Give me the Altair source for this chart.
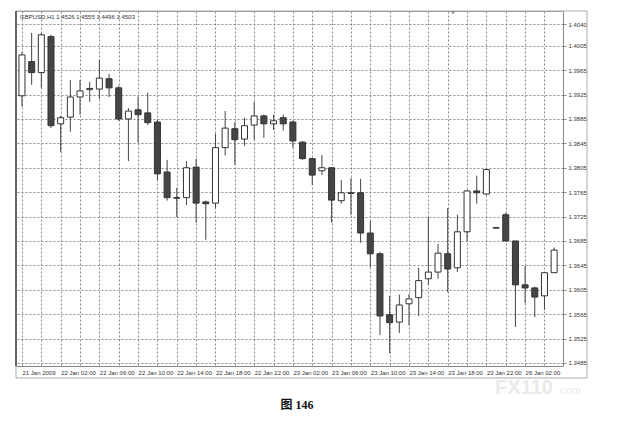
import altair as alt
import pandas as pd

# ---- data (GBPUSD H1 candles) ----
bar_idx = list(range(56))
open_ = [1.3923, 1.3979, 1.3961, 1.4020, 1.3877, 1.3888, 1.3921, 1.3933, 1.3934, 1.3951,
         1.3936, 1.3885, 1.3900, 1.3895, 1.3880, 1.3798, 1.3756, 1.3756, 1.3806, 1.3749,
         1.3747, 1.3838, 1.3869, 1.3852, 1.3875, 1.3890, 1.3877, 1.3887, 1.3880, 1.3847,
         1.3820, 1.3800, 1.3805, 1.3751, 1.3764, 1.3764, 1.3698, 1.3664, 1.3564, 1.3552,
         1.3582, 1.3592, 1.3623, 1.3634, 1.3664, 1.3641, 1.3700, 1.3767, 1.3762, 1.3707,
         1.3728, 1.3685, 1.3613, 1.3608, 1.3595, 1.3633]
high = [1.3995, 1.4026, 1.4026, 1.4023, 1.3890, 1.3949, 1.3949, 1.3946, 1.3982, 1.3959,
        1.3939, 1.3903, 1.3921, 1.3928, 1.3884, 1.3818, 1.3772, 1.3816, 1.3820, 1.3751,
        1.3861, 1.3898, 1.3880, 1.3887, 1.3913, 1.3892, 1.3892, 1.3892, 1.3882, 1.3849,
        1.3821, 1.3826, 1.3806, 1.3785, 1.3788, 1.3787, 1.3718, 1.3667, 1.3595, 1.3597,
        1.3598, 1.3641, 1.3724, 1.3680, 1.3739, 1.3728, 1.3769, 1.3792, 1.3803, 1.3707,
        1.3731, 1.3685, 1.3644, 1.3610, 1.3633, 1.3674]
low = [1.3905, 1.3941, 1.3936, 1.3870, 1.3831, 1.3864, 1.3892, 1.3913, 1.3918, 1.3921,
       1.3882, 1.3816, 1.3846, 1.3875, 1.3785, 1.3751, 1.3724, 1.3744, 1.3715, 1.3687,
       1.3739, 1.3825, 1.3810, 1.3841, 1.3851, 1.3854, 1.3867, 1.3866, 1.3838, 1.3818,
       1.3777, 1.3793, 1.3715, 1.3746, 1.3728, 1.3682, 1.3642, 1.3531, 1.3501, 1.3534,
       1.3547, 1.3562, 1.3613, 1.3623, 1.3601, 1.3634, 1.3685, 1.3746, 1.3760, 1.3706,
       1.3685, 1.3544, 1.3583, 1.3560, 1.3572, 1.3633]
close = [1.3990, 1.3961, 1.4023, 1.3874, 1.3887, 1.3921, 1.3931, 1.3935, 1.3952, 1.3936,
         1.3885, 1.3898, 1.3892, 1.3879, 1.3795, 1.3756, 1.3755, 1.3805, 1.3747, 1.3746,
         1.3838, 1.3870, 1.3851, 1.3874, 1.3890, 1.3877, 1.3882, 1.3877, 1.3849, 1.3820,
         1.3793, 1.3805, 1.3752, 1.3764, 1.3763, 1.3698, 1.3664, 1.3562, 1.3551, 1.3580,
         1.3590, 1.3620, 1.3634, 1.3665, 1.3639, 1.3700, 1.3767, 1.3764, 1.3802, 1.3706,
         1.3685, 1.3613, 1.3608, 1.3593, 1.3633, 1.3670]

x_tick_idx = [0, 4, 8, 12, 16, 20, 24, 28, 32, 36, 40, 44, 48, 52]
x_tick_labels = ["21 Jan 2009", "22 Jan 02:00", "22 Jan 06:00", "22 Jan 10:00",
                 "22 Jan 14:00", "22 Jan 18:00", "22 Jan 22:00", "23 Jan 02:00",
                 "23 Jan 06:00", "23 Jan 10:00", "23 Jan 14:00", "23 Jan 18:00",
                 "23 Jan 22:00", "26 Jan 02:00"]
x_grid_idx = list(range(0, 56, 2))
y_ticks = [1.3485, 1.3525, 1.3565, 1.3605, 1.3645, 1.3685, 1.3725, 1.3765,
           1.3805, 1.3845, 1.3885, 1.3925, 1.3965, 1.4005, 1.4040]
header_text = "GBPUSD,H1  1.4526 1.4555 1.4496 1.4503"
caption_text = "图 146"

df = pd.DataFrame({"i": bar_idx, "open": open_, "high": high, "low": low, "close": close})
df["dir"] = ["up" if c >= o else "down" for o, c in zip(open_, close)]

W, H = 547, 355
FONT = "Liberation Sans"

label_map = "{" + ",".join(f"'{k}':'{v}'" for k, v in zip(x_tick_idx, x_tick_labels)) + "}"
label_expr = f"({label_map})[datum.value] || ''"

x_scale = alt.Scale(domain=[-0.1, 55.4], nice=False, zero=False)
y_scale = alt.Scale(domain=[1.3480, 1.4062], nice=False, zero=False)

x_axis = alt.Axis(values=x_grid_idx, tickCount=100, labelExpr=label_expr, title=None, ticks=False,
                  grid=True, gridDash=[2, 2], gridColor="#8a8a8a", gridWidth=1,
                  labelAlign="left", labelBaseline="top", labelPadding=3,
                  labelFontSize=6, labelFont=FONT, labelColor="#333",
                  labelOverlap=False, labelFlush=False, labelBound=False,
                  domainColor="#888")
y_axis = alt.Axis(values=y_ticks, tickCount=100, format=".4f", orient="right", title=None,
                  grid=True, gridDash=[2, 2], gridColor="#8a8a8a", gridWidth=1,
                  tickSize=3, tickColor="#888", labelPadding=2,
                  labelFontSize=6, labelFont=FONT, labelColor="#333",
                  labelOverlap=False, domainColor="#888")

base = alt.Chart(df)

wicks = base.mark_rule(color="#444", strokeWidth=1, clip=True).encode(
    x=alt.X("i:Q", scale=x_scale, axis=x_axis),
    y=alt.Y("low:Q", scale=y_scale, axis=y_axis),
    y2="high:Q",
)

bodies = base.mark_bar(size=6, stroke="#333", strokeWidth=1, clip=True).encode(
    x=alt.X("i:Q", scale=x_scale),
    y=alt.Y("open:Q", scale=y_scale),
    y2="close:Q",
    color=alt.Color("dir:N", scale=alt.Scale(domain=["up", "down"], range=["#ffffff", "#454545"]),
                    legend=None),
)

one = pd.DataFrame({"t": [header_text]})
header = alt.Chart(one).mark_text(align="left", baseline="middle", fontSize=6, font=FONT,
                                  color="#333").encode(
    x=alt.value(4), y=alt.value(6), text="t:N")

cap = alt.Chart(pd.DataFrame({"t": [caption_text]})).mark_text(
    align="center", baseline="middle", fontSize=12, fontWeight="bold",
    font="'Liberation Serif', 'Noto Sans CJK SC'", color="#111").encode(
    x=alt.value(281), y=alt.value(394), text="t:N")

frame = alt.Chart(pd.DataFrame({"t": [1]})).mark_rect(
    fill=None, stroke="#aaa", strokeWidth=1).encode(
    x=alt.value(0), x2=alt.value(571), y=alt.value(0), y2=alt.value(367))

left_edge = alt.Chart(pd.DataFrame({"t": [1]})).mark_rule(color="#666", strokeWidth=2).encode(
    x=alt.value(0), y=alt.value(0), y2=alt.value(H))

marker = alt.Chart(pd.DataFrame({"t": [1]})).mark_point(
    shape="triangle-down", filled=True, size=14, color="#666").encode(
    x=alt.value(437), y=alt.value(2))

wm1 = alt.Chart(pd.DataFrame({"t": ["FX110"]})).mark_text(
    align="center", baseline="middle", fontSize=20, fontWeight="bold", font=FONT,
    color="#e6e6e6", opacity=0.8).encode(x=alt.value(508), y=alt.value(377), text="t:N")
wm2 = alt.Chart(pd.DataFrame({"t": [".com"]})).mark_text(
    align="left", baseline="middle", fontSize=11, font=FONT,
    color="#e6e6e6", opacity=0.8).encode(x=alt.value(541), y=alt.value(380), text="t:N")

chart = alt.layer(wicks, bodies, frame, left_edge, header, marker, wm1, wm2, cap).properties(
    width=W, height=H,
    autosize=alt.AutoSizeParams(type="none"),
    padding={"left": 8, "top": 3, "right": 50, "bottom": 50},
    background="white",
).configure_view(stroke="#999", strokeWidth=1)

chart.save("out.html", embed_options={"renderer": "svg", "actions": False})
